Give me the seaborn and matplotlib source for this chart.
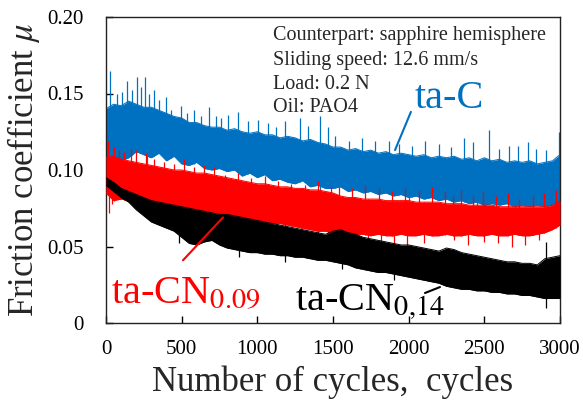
import numpy as np
import pandas as pd
import seaborn as sns
import matplotlib
matplotlib.use("Agg")
import matplotlib.pyplot as plt

# Friction coefficient: solid band of the oscillating trace (min / max), every 50 cycles
cycles = list(range(0, 3001, 50))

tac_upper = [0.140, 0.143, 0.142, 0.145, 0.143, 0.141, 0.141, 0.139, 0.137, 0.135,
             0.134, 0.131, 0.131, 0.129, 0.128, 0.128, 0.126, 0.127, 0.125, 0.124,
             0.125, 0.123, 0.123, 0.121, 0.122, 0.121, 0.119, 0.120, 0.118, 0.117,
             0.115, 0.115, 0.113, 0.114, 0.112, 0.113, 0.111, 0.112, 0.110, 0.111,
             0.110, 0.109, 0.110, 0.108, 0.109, 0.108, 0.109, 0.107, 0.108, 0.106,
             0.108, 0.106, 0.107, 0.105, 0.106, 0.105, 0.106, 0.104, 0.105, 0.106,
             0.110]
tac_lower = [0.104, 0.106, 0.106, 0.108, 0.112, 0.110, 0.108, 0.111, 0.106, 0.109,
             0.104, 0.103, 0.105, 0.101, 0.100, 0.101, 0.099, 0.100, 0.096, 0.098,
             0.095, 0.097, 0.093, 0.094, 0.092, 0.091, 0.093, 0.089, 0.090, 0.088,
             0.088, 0.089, 0.086, 0.087, 0.085, 0.086, 0.084, 0.085, 0.083, 0.084,
             0.082, 0.083, 0.081, 0.082, 0.080, 0.081, 0.079, 0.080, 0.078, 0.079,
             0.077, 0.078, 0.077, 0.078, 0.076, 0.077, 0.076, 0.077, 0.076, 0.077,
             0.079]
# individual peaks of the raw trace above the band
tac_peak_x = [26, 75, 108, 141, 174, 207, 229, 255, 284, 317, 350, 394, 427, 493,
              537, 581, 625, 680, 725, 762, 806, 872, 938, 1004, 1070, 1126, 1181,
              1279, 1335, 1412, 1467, 1515, 1604, 1692, 1780, 1868, 1934, 2022,
              2110, 2198, 2280, 2368, 2423, 2533, 2599, 2665, 2720, 2786, 2841,
              2907, 2995]
tac_peak_y = [0.165, 0.150, 0.151, 0.158, 0.152, 0.161, 0.154, 0.161, 0.150, 0.152,
              0.146, 0.148, 0.139, 0.142, 0.137, 0.139, 0.135, 0.141, 0.135, 0.134,
              0.136, 0.138, 0.132, 0.133, 0.131, 0.128, 0.132, 0.134, 0.129, 0.135,
              0.128, 0.122, 0.119, 0.121, 0.119, 0.119, 0.117, 0.116, 0.119, 0.117,
              0.115, 0.121, 0.118, 0.126, 0.114, 0.116, 0.116, 0.118, 0.114, 0.113,
              0.125]
tac_dip_x = [270, 1412, 2000, 2450, 2700]
tac_dip_y = [0.093, 0.076, 0.080, 0.075, 0.074]

cn09_upper = [0.108, 0.109, 0.107, 0.106, 0.105, 0.104, 0.103, 0.102, 0.101, 0.100,
              0.100, 0.099, 0.098, 0.098, 0.097, 0.096, 0.095, 0.094, 0.093, 0.092,
              0.091, 0.091, 0.090, 0.089, 0.089, 0.088, 0.088, 0.087, 0.087, 0.086,
              0.085, 0.083, 0.082, 0.082, 0.081, 0.081, 0.081, 0.080, 0.080, 0.080,
              0.080, 0.079, 0.079, 0.079, 0.079, 0.078, 0.078, 0.078, 0.077, 0.077,
              0.077, 0.077, 0.076, 0.076, 0.076, 0.076, 0.076, 0.076, 0.076, 0.077,
              0.080]
cn09_lower = [0.085, 0.080, 0.081, 0.080, 0.079, 0.078, 0.078, 0.077, 0.077, 0.076,
              0.075, 0.074, 0.074, 0.073, 0.072, 0.071, 0.070, 0.069, 0.068, 0.067,
              0.067, 0.066, 0.065, 0.065, 0.064, 0.063, 0.062, 0.061, 0.060, 0.060,
              0.059, 0.059, 0.058, 0.058, 0.058, 0.057, 0.058, 0.057, 0.057, 0.058,
              0.057, 0.057, 0.058, 0.057, 0.057, 0.058, 0.057, 0.057, 0.058, 0.057,
              0.057, 0.058, 0.057, 0.057, 0.058, 0.057, 0.057, 0.058, 0.059, 0.061,
              0.064]
cn09_peak_x = [13, 53, 86, 119, 163, 196, 262, 317, 383, 449, 515, 581, 647, 714,
               784, 872, 960, 1048, 1137, 1225, 1313, 1401, 1489, 1538, 1626, 1714,
               1802, 1890, 1978, 2066, 2154, 2242, 2291, 2346, 2423, 2489, 2577,
               2654, 2731, 2819, 2896, 2973]
cn09_peak_y = [0.119, 0.115, 0.113, 0.112, 0.114, 0.113, 0.111, 0.107, 0.105, 0.104,
               0.107, 0.102, 0.103, 0.102, 0.097, 0.098, 0.095, 0.096, 0.093, 0.091,
               0.090, 0.093, 0.089, 0.089, 0.088, 0.090, 0.088, 0.086, 0.088, 0.087,
               0.089, 0.086, 0.083, 0.087, 0.083, 0.086, 0.083, 0.085, 0.081, 0.083,
               0.085, 0.087]
cn09_dip_x = [20, 40, 850, 960, 1070, 1180, 1290, 1400, 1470, 1530, 1640, 1730,
              1820, 1900, 1990, 2100, 2300, 2390, 2500, 2590, 2680, 2770, 2860]
cn09_dip_y = [0.072, 0.078, 0.065, 0.063, 0.064, 0.061, 0.060, 0.056, 0.058, 0.054,
              0.050, 0.053, 0.051, 0.052, 0.050, 0.052, 0.054, 0.051, 0.053, 0.052,
              0.050, 0.051, 0.054]

cn14_upper = [0.095, 0.092, 0.088, 0.086, 0.084, 0.082, 0.080, 0.079, 0.078, 0.077,
              0.076, 0.075, 0.074, 0.073, 0.072, 0.071, 0.071, 0.070, 0.069, 0.068,
              0.067, 0.066, 0.065, 0.064, 0.063, 0.062, 0.061, 0.060, 0.059, 0.058,
              0.060, 0.061, 0.059, 0.058, 0.056, 0.055, 0.054, 0.053, 0.052, 0.051,
              0.051, 0.050, 0.049, 0.048, 0.047, 0.049, 0.048, 0.046, 0.045, 0.044,
              0.043, 0.042, 0.041, 0.040, 0.040, 0.039, 0.039, 0.038, 0.042, 0.043,
              0.044]
cn14_lower = [0.090, 0.086, 0.082, 0.079, 0.074, 0.070, 0.066, 0.064, 0.062, 0.060,
              0.056, 0.052, 0.051, 0.053, 0.054, 0.051, 0.049, 0.048, 0.047, 0.046,
              0.046, 0.045, 0.045, 0.044, 0.044, 0.043, 0.043, 0.042, 0.041, 0.041,
              0.040, 0.039, 0.038, 0.036, 0.035, 0.034, 0.033, 0.033, 0.032, 0.031,
              0.030, 0.029, 0.028, 0.027, 0.026, 0.024, 0.023, 0.022, 0.022, 0.021,
              0.021, 0.020, 0.020, 0.019, 0.019, 0.018, 0.018, 0.017, 0.016, 0.016,
              0.016]
cn14_peak_x = [2905]
cn14_peak_y = [0.053]
cn14_dip_x = [480, 880, 1180, 1560, 1900, 2905]
cn14_dip_y = [0.052, 0.043, 0.040, 0.035, 0.028, 0.010]

series_names = ["ta-C", "ta-CN0.09", "ta-CN0.14"]
series_colors = ["#0070C0", "#FF0000", "#000000"]
x_ticks = [0, 500, 1000, 1500, 2000, 2500, 3000]
y_ticks = [0, 0.05, 0.10, 0.15, 0.20]
y_ticklabels = ["0", "0.05", "0.10", "0.15", "0.20"]
conditions = ["Counterpart: sapphire hemisphere", "Sliding speed: 12.6 mm/s",
              "Load: 0.2 N", "Oil: PAO4"]

sns.set_style("ticks")
plt.rcParams["font.family"] = ["Liberation Serif", "DejaVu Serif"]
plt.rcParams["mathtext.fontset"] = "stix"

envelopes = {
    "ta-C": (tac_lower, tac_upper, tac_peak_x, tac_peak_y, tac_dip_x, tac_dip_y),
    "ta-CN0.09": (cn09_lower, cn09_upper, cn09_peak_x, cn09_peak_y,
                  cn09_dip_x, cn09_dip_y),
    "ta-CN0.14": (cn14_lower, cn14_upper, cn14_peak_x, cn14_peak_y,
                  cn14_dip_x, cn14_dip_y),
}

fig = plt.figure(figsize=(5.83, 4.0), dpi=100)
ax = fig.add_axes([0.1818, 0.1925, 0.7787, 0.765])

for i, (name, color) in enumerate(zip(series_names, series_colors)):
    lower, upper, px, py, dx, dy = envelopes[name]
    df = pd.DataFrame({
        "cycles": cycles * 2,
        "mu": lower + upper,
        "bound": ["lower"] * len(cycles) + ["upper"] * len(cycles),
    })
    sns.lineplot(data=df, x="cycles", y="mu", units="bound", estimator=None,
                 color=color, lw=0.7, ax=ax, zorder=i + 2, legend=False)
    ax.fill_between(cycles, lower, upper, color=color, lw=0, zorder=i + 2)
    # isolated excursions of the raw trace beyond the band
    ax.vlines(px, np.interp(px, cycles, lower), py, color=color, lw=0.9,
              zorder=i + 2)
    ax.vlines(dx, dy, np.interp(dx, cycles, upper), color=color, lw=0.9,
              zorder=i + 2)

ax.set_xlim(0, 3000)
ax.set_ylim(0, 0.20)
ax.set_xticks(x_ticks)
ax.set_yticks(y_ticks)
ax.set_yticklabels(y_ticklabels)
ax.tick_params(axis="both", direction="in", length=5, width=1, labelsize=15,
               colors="black", top=False, right=False)
ax.tick_params(axis="x", pad=12)
ax.tick_params(axis="y", pad=16)
for sp in ax.spines.values():
    sp.set_visible(True)
    sp.set_color("#222222")
    sp.set_linewidth(1.0)

ax.set_xlabel("Number of cycles,  cycles", fontsize=25, labelpad=5)
ax.set_ylabel(r"Friction coefficient $\mathit{\mu}$", fontsize=25, labelpad=4)

# Test conditions
ys = [0.941, 0.859, 0.781, 0.703]
for txt, yy in zip(conditions, ys):
    ax.text(0.368, yy, txt, transform=ax.transAxes, fontsize=14.5,
            ha="left", va="center", zorder=10)

# Series labels with leader lines
label_font = dict(fontsize=29, fontfamily="Liberation Serif", zorder=10)
ax.text(2040, 0.147, "ta-C", color="#0070C0", ha="left", va="center",
        **label_font)
ax.plot([2015, 1910], [0.138, 0.113], color="#0070C0", lw=1.5, zorder=10)

ax.text(30, 0.013, r"ta-CN$_{\mathrm{0.09}}$", color="#FF0000", ha="left",
        va="baseline", **label_font)
ax.plot([509, 773], [0.041, 0.069], color="#FF0000", lw=1.5, zorder=10)

ax.text(1250, 0.008, r"ta-CN$_{\mathrm{0{,}14}}$", color="#000000", ha="left",
        va="baseline", **label_font)
ax.plot([2108, 2207], [0.0196, 0.0235], color="#000000", lw=1.5, zorder=10)

fig.savefig("out.png", dpi=100)
